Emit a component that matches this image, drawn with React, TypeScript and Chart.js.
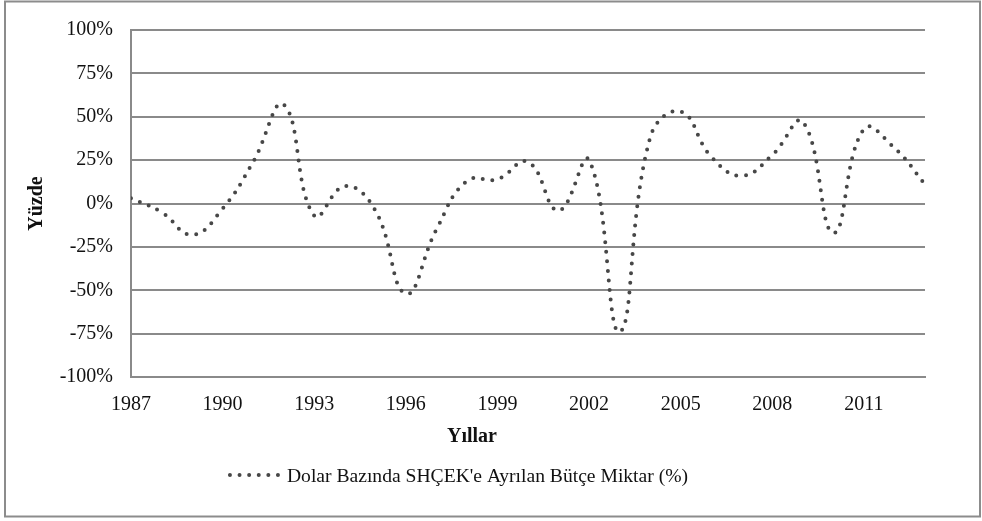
import React, { useEffect, useRef } from 'react';
import { Chart, registerables } from 'chart.js';

Chart.register(...registerables);

const years = [1987, 1988, 1989, 1990, 1991, 1992, 1993, 1994, 1995, 1996, 1997, 1998, 1999, 2000, 2001, 2002, 2003, 2004, 2005, 2006, 2007, 2008, 2009, 2010, 2011, 2012, 2013];
const values = [3, -5, -18, -3, 24, 57, -7, 10, -4, -52, -15, 13, 14, 24, -4, 25, -74, 38, 53, 27, 16, 28, 47, -17, 43, 32, 11];
const xTickValues = [1987, 1990, 1993, 1996, 1999, 2002, 2005, 2008, 2011];
const yTickValues = [-100, -75, -50, -25, 0, 25, 50, 75, 100];
const seriesLabel = "Dolar Bazında SHÇEK'e Ayrılan Bütçe Miktar (%)";
const xTitle = 'Yıllar';
const yTitle = 'Yüzde';

const FONT = '"Liberation Serif", "Times New Roman", serif';
const GRID = '#8a8a8a';
const LINE = '#474747';

const decor = {
  id: 'decor',
  beforeDraw(chart: any) {
    const ctx = chart.ctx;
    ctx.save();
    ctx.fillStyle = '#fff';
    ctx.fillRect(0, 0, chart.width, chart.height);
    ctx.restore();
  },
  afterDraw(chart: any) {
    const ctx = chart.ctx;
    const a = chart.chartArea;
    ctx.save();
    // outer frame
    ctx.strokeStyle = '#8c8c8c';
    ctx.lineWidth = 2;
    ctx.strokeRect(5, 1.5, 975, 515);
    ctx.fillStyle = '#111';
    // y title
    ctx.save();
    ctx.font = 'bold 20px ' + FONT;
    ctx.translate(37, (a.top + a.bottom) / 2);
    ctx.rotate(-Math.PI / 2);
    ctx.textAlign = 'center';
    ctx.textBaseline = 'middle';
    ctx.fillText(yTitle, 0, 0);
    ctx.restore();
    // x title
    ctx.font = 'bold 20px ' + FONT;
    ctx.textAlign = 'center';
    ctx.textBaseline = 'middle';
    ctx.fillText(xTitle, 472, 437);
    // legend
    ctx.font = '19.6px ' + FONT;
    const tw = ctx.measureText(seriesLabel).width;
    const sampleW = 54;
    const gap = 5;
    const total = sampleW + gap + tw;
    const start = 458 - total / 2;
    ctx.strokeStyle = LINE;
    ctx.lineWidth = 4;
    ctx.lineCap = 'round';
    ctx.setLineDash([0, 9.6]);
    ctx.beginPath();
    ctx.moveTo(start + 2, 475);
    ctx.lineTo(start + sampleW, 475);
    ctx.stroke();
    ctx.setLineDash([]);
    ctx.textAlign = 'left';
    ctx.textBaseline = 'middle';
    ctx.fillText(seriesLabel, start + sampleW + gap, 477);
    ctx.restore();
  },
};

export default function App() {
  const ref = useRef<HTMLCanvasElement | null>(null);
  useEffect(() => {
    if (!ref.current) return;
    const chart = new Chart(ref.current, {
      type: 'line',
      data: {
        datasets: [
          {
            label: seriesLabel,
            data: years.map((y, i) => ({ x: y, y: values[i] })),
            borderColor: LINE,
            borderWidth: 4,
            borderDash: [0, 9.6],
            borderCapStyle: 'round',
            pointRadius: 0,
            fill: false,
            tension: 0.45,
          },
        ],
      },
      options: {
        responsive: false,
        animation: false,
        layout: { padding: { left: 0, right: 57, top: 29, bottom: 0 } },
        plugins: { legend: { display: false }, tooltip: { enabled: false } },
        scales: {
          x: {
            type: 'linear',
            min: 1987,
            max: 2013,
            afterBuildTicks: (s: any) => {
              s.ticks = xTickValues.map((v) => ({ value: v }));
            },
            afterFit: (s: any) => {
              s.height = 521 - 377;
            },
            grid: { display: false, drawTicks: false },
            border: { display: true, color: GRID, width: 2 },
            ticks: {
              padding: 16,
              color: '#111',
              font: { family: FONT, size: 20 },
              maxRotation: 0,
              autoSkip: false,
              callback: (v: any) => String(v),
            },
          },
          y: {
            type: 'linear',
            min: -100,
            max: 100,
            afterBuildTicks: (s: any) => {
              s.ticks = yTickValues.map((v) => ({ value: v }));
            },
            afterFit: (s: any) => {
              s.width = 131;
            },
            grid: { color: GRID, lineWidth: 2, drawTicks: false },
            border: { display: true, color: GRID, width: 2 },
            ticks: {
              padding: 18,
              color: '#111',
              font: { family: FONT, size: 20 },
              callback: (v: any) => v + '%',
            },
          },
        },
      },
      plugins: [decor],
    } as any);
    return () => chart.destroy();
  }, []);
  return (
    <div style={{ position: 'fixed', left: 0, top: 0, width: 982, height: 521, background: '#fff' }}>
      <canvas ref={ref} width={982} height={521} />
    </div>
  );
}
